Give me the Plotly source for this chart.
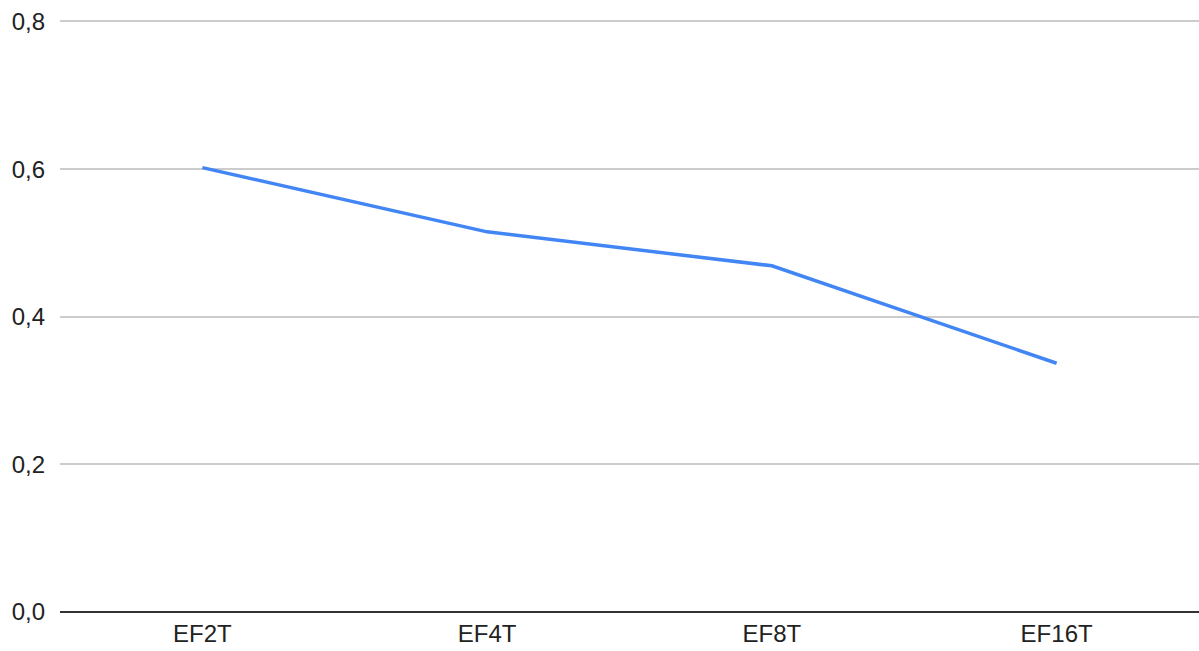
import plotly.graph_objects as go

categories = ["EF2T", "EF4T", "EF8T", "EF16T"]
values = [0.602, 0.515, 0.469, 0.337]
y_ticks = [0.0, 0.2, 0.4, 0.6, 0.8]

fig = go.Figure()
fig.add_trace(go.Scatter(
    x=categories,
    y=values,
    mode="lines",
    line=dict(color="#4285F4", width=3.5),
    showlegend=False,
))

font = dict(family="Liberation Sans, Arial, sans-serif", size=24, color="#222222")

fig.update_layout(
    width=1199,
    height=651,
    margin=dict(l=60, r=0, t=20, b=39),
    paper_bgcolor="white",
    plot_bgcolor="white",
    separators=",.",
    font=font,
    xaxis=dict(
        type="category",
        range=[-0.5, 3.5],
        showgrid=False,
        showline=False,
        zeroline=False,
        ticks="",
        tickfont=font,
        ticklabelstandoff=5,
    ),
    yaxis=dict(
        # small headroom so the 0,8 gridline is kept inside the plot area
        range=[0, 0.802],
        tickvals=y_ticks,
        tickformat=".1f",
        showgrid=True,
        gridcolor="#cccccc",
        gridwidth=1.5,
        zeroline=True,
        zerolinecolor="#333333",
        zerolinewidth=2,
        showline=False,
        ticks="",
        tickfont=font,
        ticklabelstandoff=14,
    ),
)

fig.write_html("out.html")
